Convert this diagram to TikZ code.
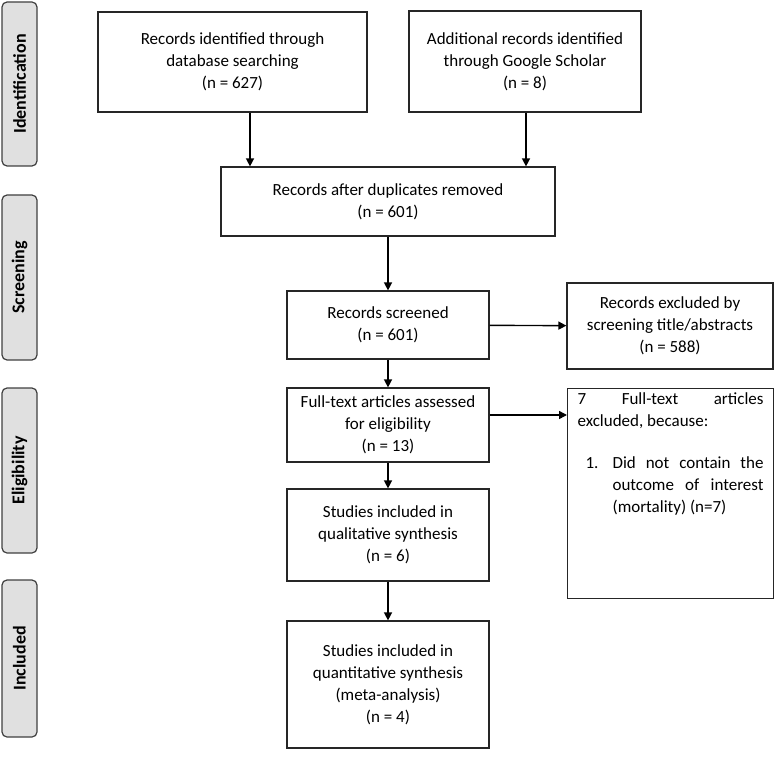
\documentclass[tikz,border=0pt]{standalone}
\usepackage{fontspec}
\setmainfont{Carlito}
\usetikzlibrary{arrows.meta}
\begin{document}
\begin{tikzpicture}[x=1pt,y=-1pt,
  txt/.style={font=\fontsize{17}{22}\selectfont},
  box/.style={draw=black!85, line width=1.2pt, align=center, inner sep=0pt, txt},
  phase/.style={draw=black!75, fill=black!12, line width=1.2pt, rounded corners=5pt,
     minimum width=35pt, inner sep=0pt, font=\fontsize{18}{20}\selectfont\bfseries},
  arr/.style={line width=1.4pt, -{Triangle[length=8pt,width=8pt]}}
]
\useasboundingbox (0,0) rectangle (776,762);
% phase labels
\node[phase, minimum height=164pt] (pid) at (19.5,84) {\rotatebox{90}{Identification}};
\node[phase, minimum height=165pt] (psc) at (19.5,277.5) {\rotatebox{90}{Screening}};
\node[phase, minimum height=165pt] (pel) at (19.5,470.5) {\rotatebox{90}{Eligibility}};
\node[phase, minimum height=157pt] (pin) at (19.5,658.5) {\rotatebox{90}{Included}};
% boxes
\node[box, minimum width=269pt, minimum height=100pt] (b1) at (232.5,62)
  {Records identified through\\database searching\\(n = 627)};
\node[box, minimum width=232pt, minimum height=101pt] (b2) at (525,61.5)
  {Additional records identified\\through Google Scholar\\(n = 8)};
\node[box, minimum width=334pt, minimum height=69pt] (b3) at (388,201.5)
  {Records after duplicates removed\\(n = 601)};
\node[box, minimum width=202pt, minimum height=68pt] (b4) at (388,325)
  {Records screened\\(n = 601)};
\node[box, minimum width=206pt, minimum height=86pt] (b5) at (670,326)
  {Records excluded by\\screening title/abstracts\\(n = 588)};
\node[box, minimum width=202pt, minimum height=74pt] (b6) at (388,425)
  {Full-text articles assessed\\for eligibility\\(n = 13)};
\node[box, anchor=north west, inner sep=0pt] (b7) at (567,388)
  {\hspace{10pt}\parbox[t][210pt][t]{186pt}{\vspace{4pt}\setlength{\parindent}{0pt}%
   \hyphenpenalty=10000\exhyphenpenalty=10000\tolerance=9999\relax
   7 Full-text articles\linebreak excluded, because:\par\vspace{20pt}%
   \hangindent=35pt\hangafter=1\makebox[35pt][l]{\hspace{8pt}1.}Did not contain the outcome of interest (mortality) (n=7)\par}\hspace{10pt}};
\node[box, minimum width=202pt, minimum height=92pt] (b8) at (388,535)
  {Studies included in\\qualitative synthesis\\(n = 6)};
\node[box, minimum width=202pt, minimum height=127pt] (b9) at (388,684.5)
  {Studies included in\\quantitative synthesis\\(meta-analysis)\\(n = 4)};
% arrows
\draw[arr] (b1.south -| 250,0) -- (b3.north -| 250,0);
\draw[arr] (b2.south -| 526,0) -- (b3.north -| 526,0);
\draw[arr] (b3) -- (b4);
\draw[arr] (b4) -- (b5);
\draw[arr] (b4) -- (b6);
\draw[arr] (b6.east |- 0,415) -- (b7.west |- 0,415);
\draw[arr] (b6) -- (b8);
\draw[arr] (b8) -- (b9);
\end{tikzpicture}
\end{document}
